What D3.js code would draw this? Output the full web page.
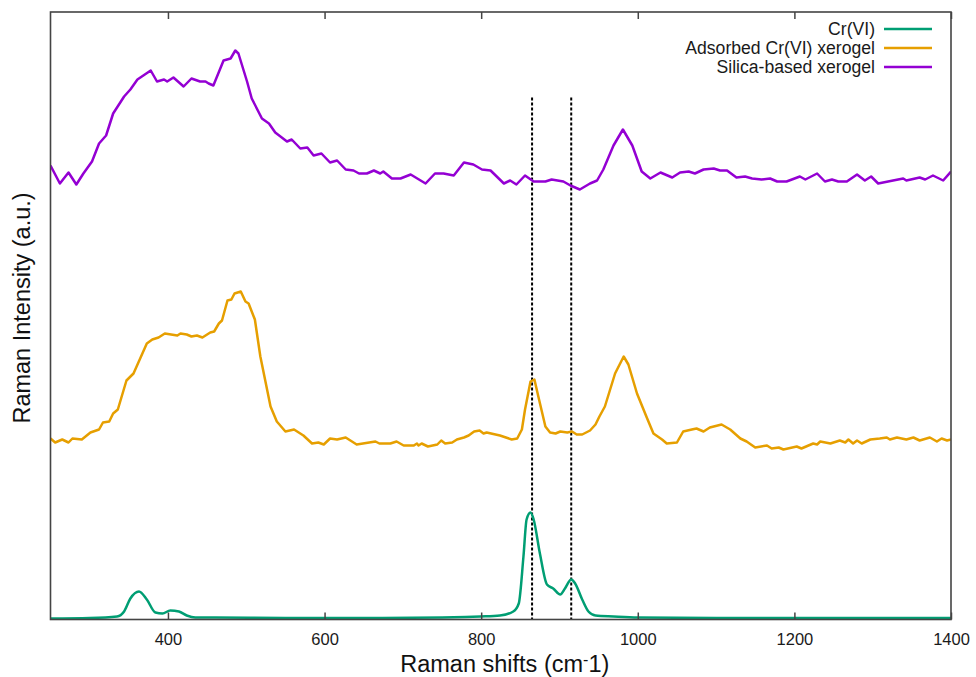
<!DOCTYPE html>
<html>
<head>
<meta charset="utf-8">
<script src="https://cdn.jsdelivr.net/npm/d3@7"></script>
<style>
  html, body { margin: 0; padding: 0; background: #fff; }
  svg { display: block; font-family: "Liberation Sans", Arial, sans-serif; }
</style>
</head>
<body>
<svg id="chart" width="976" height="677"></svg>
<script>
// ---- Data (Raman shift cm-1, intensity a.u.) ----
const xTicks = [400, 600, 800, 1000, 1200, 1400];
const markerShifts = [865, 915];
const seriesNames = ["Cr(VI)", "Adsorbed Cr(VI) xerogel", "Silica-based xerogel"];
const seriesColors = ["#009e73", "#e69f00", "#9400d3"];

const crviData = [
  [250,1],[300,1.5],[335,3],[344,8],[352,21],[363,28],[373,20],[384,7],[393,6],[403,9],[414,8],
  [424,4],[435,2],[460,2],[550,1.5],[650,1.5],[750,2],[780,2.5],[799,3],[824,4],[841,8],[848,16],
  [854,63],[858,100],[863,107],[867,100],[875,66],[884,35],[892,31],[901,25],[907,31],[915,40],
  [920,36],[929,20],[937,8],[946,4],[969,3],[1000,2],[1100,1.5],[1200,1.5],[1300,1.5],[1400,1.5]
];

const adsorbedData = [
  [250,181],[256,177],[265,180],[273,177],[278,181],[290,180],[301,187],[312,190],[317,197],[325,198],
  [330,206],[336,210],[347,239],[356,246],[373,276],[380,280],[388,282],[396,286],[412,284],[416,286],
  [424,285],[430,283],[437,284],[444,282],[454,287],[459,288],[465,296],[469,299],[476,319],[481,320],
  [485,326],[493,328],[499,318],[503,316],[511,300],[518,263],[531,213],[539,198],[550,188],[561,190],
  [573,184],[584,176],[592,177],[599,175],[607,181],[616,180],[627,182],[641,175],[665,178],[670,176],
  [684,176],[692,178],[701,174],[714,174],[718,176],[720,174],[724,176],[732,173],[744,175],[749,179],
  [754,176],[763,177],[769,180],[778,182],[784,184],[791,188],[798,189],[803,186],[807,187],[824,184],
  [839,180],[846,181],[852,190],[856,210],[863,238],[868,240],[873,223],[882,193],[888,187],[895,186],
  [901,188],[910,187],[916,188],[922,185],[929,185],[939,189],[946,195],[951,203],[958,213],[971,246],
  [982,263],[988,255],[999,226],[1012,201],[1020,186],[1031,180],[1037,176],[1050,177],[1058,188],[1069,190],
  [1075,191],[1084,188],[1092,192],[1107,195],[1118,190],[1131,181],[1139,178],[1150,172],[1165,174],[1171,171],
  [1180,172],[1186,170],[1203,173],[1209,171],[1224,176],[1229,175],[1233,178],[1246,176],[1258,179],[1265,177],
  [1269,180],[1275,176],[1280,179],[1286,176],[1297,180],[1309,181],[1318,182],[1322,180],[1331,182],[1343,180],
  [1352,182],[1360,179],[1373,182],[1382,178],[1388,181],[1395,179],[1400,180]
];

const silicaData = [
  [250,454],[262,436],[273,447],[283,435],[292,446],[303,458],[312,476],[321,484],[330,506],[344,523],
  [352,530],[361,540],[378,549],[386,538],[395,540],[399,538],[407,542],[420,533],[430,541],[441,538],
  [448,538],[452,536],[458,534],[471,559],[480,561],[486,569],[490,566],[501,538],[507,521],[520,501],
  [529,496],[537,487],[552,478],[558,480],[569,471],[578,472],[586,464],[596,466],[607,457],[616,459],
  [627,450],[637,449],[644,446],[654,446],[663,449],[671,446],[675,448],[686,441],[697,441],[710,445],
  [729,436],[741,446],[752,446],[765,444],[778,457],[790,455],[801,450],[812,449],[829,436],[837,439],
  [845,435],[856,444],[867,438],[882,438],[890,440],[905,438],[914,434],[926,430],[939,436],[948,439],
  [956,450],[969,474],[981,490],[993,474],[1005,448],[1016,441],[1029,447],[1044,442],[1054,447],[1065,448],
  [1073,446],[1084,450],[1097,451],[1105,449],[1114,449],[1126,442],[1137,443],[1146,441],[1158,440],[1169,441],
  [1178,438],[1190,438],[1207,443],[1214,440],[1229,446],[1239,438],[1248,440],[1256,438],[1267,438],[1280,445],
  [1290,439],[1298,443],[1307,436],[1326,439],[1339,441],[1343,439],[1360,442],[1367,440],[1377,444],[1390,439],
  [1400,448]
];

const markerTop = 522;

// ---- Layout ----
const svg = d3.select("#chart");
const plotLeft = 50.5, plotRight = 951, plotTop = 12, plotBottom = 619.5;

const x = d3.scaleLinear().domain([250, 1400]).range([plotLeft, plotRight]);
const y = d3.scaleLinear().domain([0, 607.5]).range([plotBottom, plotTop]);

svg.append("defs").append("clipPath").attr("id", "clip")
  .append("rect").attr("x", plotLeft).attr("y", plotTop)
  .attr("width", plotRight - plotLeft).attr("height", plotBottom - plotTop);

const gPlot = svg.append("g");

// dashed markers
gPlot.selectAll("line.marker").data(markerShifts).join("line")
  .attr("class", "marker")
  .attr("x1", d => x(d)).attr("x2", d => x(d))
  .attr("y1", y(markerTop)).attr("y2", y(0))
  .attr("stroke", "#000").attr("stroke-width", 2).attr("stroke-dasharray", "3,2");

// series
const lineLinear = d3.line().x(d => x(d[0])).y(d => y(d[1]));
const lineSmooth = d3.line().x(d => x(d[0])).y(d => y(d[1])).curve(d3.curveMonotoneX);

const gLines = gPlot.append("g").attr("clip-path", "url(#clip)");
gLines.append("path").datum(silicaData).attr("d", lineLinear)
  .attr("fill", "none").attr("stroke", seriesColors[2]).attr("stroke-width", 2.5).attr("stroke-linejoin", "round");
gLines.append("path").datum(adsorbedData).attr("d", lineLinear)
  .attr("fill", "none").attr("stroke", seriesColors[1]).attr("stroke-width", 2.5).attr("stroke-linejoin", "round");
gLines.append("path").datum(crviData).attr("d", lineSmooth)
  .attr("fill", "none").attr("stroke", seriesColors[0]).attr("stroke-width", 2.5).attr("stroke-linejoin", "round");

// axes (ticks inward, top and bottom)
const axB = d3.axisBottom(x).tickValues(xTicks).tickFormat(d3.format("d"))
  .tickSizeInner(-7).tickSizeOuter(0).tickPadding(14);
const gB = svg.append("g").attr("transform", `translate(0,${plotBottom})`).call(axB);
gB.select(".domain").remove();
gB.selectAll(".tick line").attr("stroke", "#444").attr("stroke-width", 1.5);
gB.selectAll(".tick text").attr("font-size", 16.5).attr("fill", "#1a1a1a")
  .attr("font-family", "Liberation Sans, Arial, sans-serif");

const axT = d3.axisTop(x).tickValues(xTicks).tickSizeInner(-7).tickSizeOuter(0).tickFormat("");
const gT = svg.append("g").attr("transform", `translate(0,${plotTop})`).call(axT);
gT.select(".domain").remove();
gT.selectAll(".tick line").attr("stroke", "#444").attr("stroke-width", 1.5);

// frame
svg.append("rect").attr("x", plotLeft).attr("y", plotTop)
  .attr("width", plotRight - plotLeft).attr("height", plotBottom - plotTop)
  .attr("fill", "none").attr("stroke", "#444").attr("stroke-width", 1.6);

// axis titles
const xt = svg.append("text").attr("x", (plotLeft + plotRight) / 2 + 4).attr("y", 672)
  .attr("text-anchor", "middle").attr("font-size", 23.5).attr("fill", "#111");
xt.append("tspan").text("Raman shifts (cm");
xt.append("tspan").attr("dy", -7).attr("font-size", 16).text("-");
xt.append("tspan").attr("dy", 7).text("1)");

svg.append("text").attr("transform", "translate(30,308) rotate(-90)")
  .attr("text-anchor", "middle").attr("font-size", 23.5).attr("fill", "#111")
  .text("Raman Intensity (a.u.)");

// legend
const legY = [29, 48, 67];
const leg = svg.append("g");
seriesNames.forEach((name, i) => {
  leg.append("text").attr("x", 875).attr("y", legY[i] + 6)
    .attr("text-anchor", "end").attr("font-size", 17.6).attr("fill", "#1a1a1a").text(name);
  leg.append("line").attr("x1", 884).attr("x2", 932).attr("y1", legY[i]).attr("y2", legY[i])
    .attr("stroke", seriesColors[i]).attr("stroke-width", 2.5);
});
</script>
</body>
</html>
